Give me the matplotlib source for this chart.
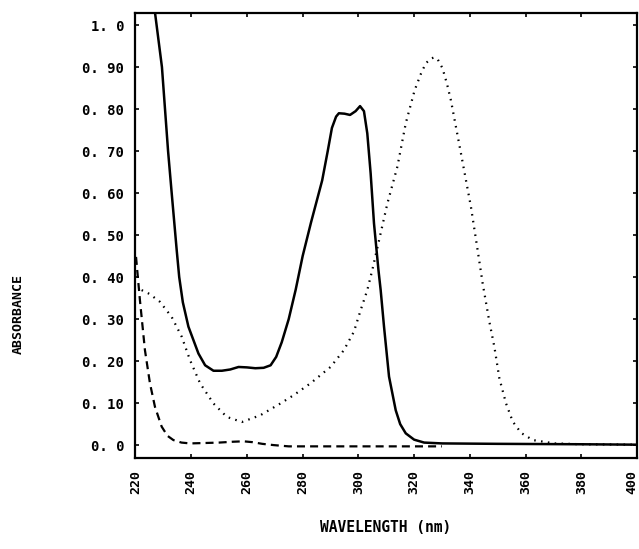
import matplotlib
matplotlib.use("Agg", force=True)
import matplotlib.pyplot as plt
import matplotlib.transforms as mtransforms

# solid curve (wavelength nm, absorbance)
solid_w = [226.5, 227.0, 229.5, 230.6, 231.7, 233.0, 234.8, 235.7, 237.0, 239.0, 242.6,
           245.0, 248.0, 251.0, 254.0, 257.0, 260.0, 263.0, 266.0, 268.5, 270.5, 272.5,
           275.0, 277.5, 280.0, 283.0, 287.0, 289.0, 290.5, 292.0, 293.0, 295.0, 297.0,
           299.0, 300.6, 302.0, 303.2, 304.4, 305.6, 307.2, 308.0, 309.2, 311.0, 313.4,
           315.0, 317.0, 320.0, 323.6, 330.0, 350.0, 380.0, 400.0]
solid_a = [1.08, 1.03, 0.90, 0.80, 0.70, 0.60, 0.464, 0.40, 0.34, 0.282, 0.218,
           0.19, 0.177, 0.177, 0.180, 0.186, 0.185, 0.183, 0.184, 0.19, 0.21, 0.245,
           0.30, 0.37, 0.45, 0.53, 0.63, 0.70, 0.755, 0.782, 0.790, 0.789, 0.786,
           0.795, 0.807, 0.795, 0.742, 0.647, 0.528, 0.417, 0.369, 0.282, 0.163, 0.083,
           0.050, 0.028, 0.013, 0.006, 0.004, 0.003, 0.002, 0.001]

# dotted curve
dot_w = [222.2, 225.0, 228.8, 233.0, 236.6, 239.6, 243.2, 248.0, 252.8, 258.2, 264.8,
         272.0, 276.8, 282.8, 290.0, 294.8, 298.4, 300.8, 303.2, 305.0, 307.5, 310.4,
         314.0, 317.0, 320.2, 322.5, 324.2, 326.0, 327.2, 328.5, 330.2, 331.8, 333.2,
         335.0, 336.8, 338.6, 340.4, 342.8, 344.6, 347.0, 348.8, 350.6, 353.0, 355.4,
         358.4, 362.6, 370.4, 380.0, 400.0]
dot_a = [0.369, 0.36, 0.341, 0.305, 0.258, 0.202, 0.147, 0.099, 0.067, 0.055, 0.071,
         0.099, 0.119, 0.147, 0.186, 0.226, 0.270, 0.321, 0.369, 0.417, 0.49, 0.575,
         0.663, 0.766, 0.845, 0.885, 0.909, 0.920, 0.923, 0.918, 0.897, 0.86, 0.821,
         0.758, 0.695, 0.631, 0.567, 0.464, 0.385, 0.294, 0.234, 0.159, 0.099, 0.056,
         0.029, 0.012, 0.004, 0.002, 0.001]

# dashed curve
dash_w = [220.2, 221.6, 223.4, 225.2, 227.0, 229.4, 231.5, 233.6, 236.5, 239.6, 245.0,
          250.0, 255.0, 258.8, 262.0, 265.5, 269.6, 275.0, 290.0, 310.0, 330.0]
dash_a = [0.448, 0.345, 0.226, 0.147, 0.091, 0.044, 0.022, 0.012, 0.006, 0.004, 0.005,
          0.006, 0.008, 0.009, 0.007, 0.003, 0.0, -0.003, -0.003, -0.003, -0.003]

x_ticks = [220, 240, 260, 280, 300, 320, 340, 360, 380, 400]
y_ticks = [0.0, 0.1, 0.2, 0.3, 0.4, 0.5, 0.6, 0.7, 0.8, 0.9, 1.0]
y_labels = ["0. 0", "0. 10", "0. 20", "0. 30", "0. 40", "0. 50",
            "0. 60", "0. 70", "0. 80", "0. 90", "1. 0"]

mono = "DejaVu Sans Mono"

fig = plt.figure(figsize=(6.39, 5.49), dpi=100)
ax = fig.add_axes([0.212, 0.1663, 0.7849, 0.8095])

ax.plot(solid_w, solid_a, color="black", linewidth=1.8, solid_capstyle="butt")
ax.plot(dot_w, dot_a, color="black", linewidth=1.6, linestyle=(0, (0.7, 2.4)))
ax.plot(dash_w, dash_a, color="black", linewidth=1.6, linestyle=(0, (3.6, 2.3)))

ax.set_xlim(220, 400)
ax.set_ylim(-0.030, 1.028)
ax.set_xticks(x_ticks)
ax.set_xticklabels([str(t) for t in x_ticks], rotation=90, family=mono,
                   fontweight="bold", fontsize=9.5)
ax.set_yticks(y_ticks)
ax.set_yticklabels(y_labels, family=mono, fontweight="bold", fontsize=10)
ax.tick_params(direction="in", length=3, width=1.2, top=True, right=True,
               labeltop=False, labelright=False)
ax.tick_params(axis="y", pad=8)
ax.tick_params(axis="x", pad=9)
for sp in ax.spines.values():
    sp.set_linewidth(1.6)

# last x label sits right on the figure edge; nudge it inwards a little
last = ax.get_xticklabels()[-1]
last.set_transform(last.get_transform() +
                   mtransforms.ScaledTranslation(-4 / 72, 0, fig.dpi_scale_trans))

fig.text(0.028, 0.428, "ABSORBANCE", rotation=90, ha="center", va="center",
         family=mono, fontweight="bold", fontsize=9.5)
fig.text(0.603, 0.04, "WAVELENGTH (nm)", ha="center", va="center",
         family=mono, fontweight="bold", fontsize=10.5)

fig.savefig("out.png", dpi=100)
plt.close(fig)
